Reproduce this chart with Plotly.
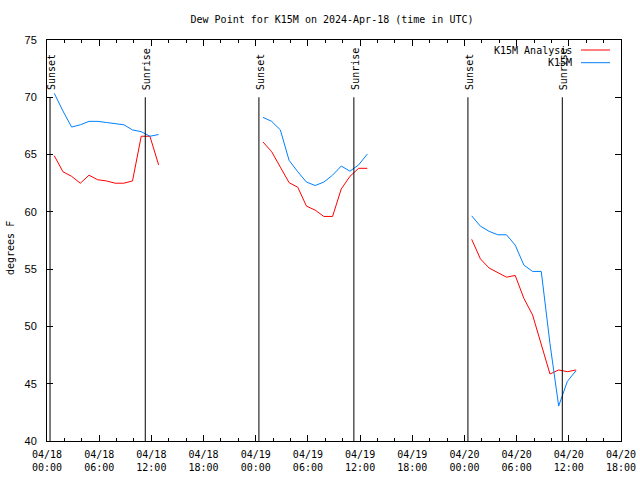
import plotly.graph_objects as go

# ---- data ----
seg_hours = ["00:50", "01:50", "02:50", "03:50", "04:50", "05:50", "06:50",
             "07:50", "08:50", "09:50", "10:50", "11:50", "12:50"]
days = ["2024-04-18", "2024-04-19", "2024-04-20"]

analysis = [
    [64.9, 63.5, 63.1, 62.5, 63.2, 62.8, 62.7, 62.5, 62.5, 62.7, 66.6, 66.6, 64.1],
    [66.1, 65.25, 63.9, 62.55, 62.15, 60.5, 60.15, 59.6, 59.6, 62.0, 63.1, 63.8, 63.8],
    [57.6, 55.9, 55.1, 54.7, 54.3, 54.45, 52.45, 51.0, 48.5, 45.85, 46.2, 46.05, 46.2],
]
k15m = [
    [70.35, 68.8, 67.4, 67.6, 67.9, 67.9, 67.8, 67.7, 67.6, 67.15, 67.0, 66.6, 66.75],
    [68.25, 67.9, 67.15, 64.5, 63.5, 62.6, 62.3, 62.6, 63.2, 64.0, 63.55, 64.1, 65.05],
    [59.65, 58.75, 58.3, 58.0, 58.0, 57.1, 55.35, 54.8, 54.8, 48.5, 43.05, 45.2, 46.15],
]
sunsets = ["2024-04-18 00:21", "2024-04-19 00:22", "2024-04-20 00:24"]
sunrises = ["2024-04-18 11:18", "2024-04-19 11:17", "2024-04-20 11:15"]

title = "Dew Point for K15M on 2024-Apr-18 (time in UTC)"
ylabel = "degrees F"
series_names = ["K15M Analysis", "K15M"]
series_colors = ["#ff0000", "#0080ff"]

# ---- build gapped series ----
xs, ya, yk = [], [], []
for d, a, k in zip(days, analysis, k15m):
    xs += [f"{d} {h}" for h in seg_hours] + [None]
    ya += a + [None]
    yk += k + [None]

MONO = "DejaVu Sans Mono"
fig = go.Figure()
fig.add_trace(go.Scatter(x=xs, y=ya, mode="lines", name=series_names[0],
                         line=dict(color=series_colors[0], width=1), connectgaps=False))
fig.add_trace(go.Scatter(x=xs, y=yk, mode="lines", name=series_names[1],
                         line=dict(color=series_colors[1], width=1), connectgaps=False))

shapes = []
annotations = []
for lbl, times in (("Sunset", sunsets), ("Sunrise", sunrises)):
    for t in times:
        shapes.append(dict(type="line", xref="x", yref="y", x0=t, x1=t, y0=40, y1=70.0,
                           line=dict(color="black", width=1)))
        annotations.append(dict(x=t, y=70.46, xref="x", yref="y", text=lbl, showarrow=False,
                                textangle=-90, xanchor="center", yanchor="bottom", xshift=1,
                                font=dict(family=MONO, size=10, color="black")))

# custom gnuplot-style legend (text left, sample right)
L, W, B, H = 47, 574, 441, 401
for i, (nm, col) in enumerate(zip(series_names, series_colors)):
    py = 50 + i * 12.7
    yp = (B - py) / H
    annotations.append(dict(x=(574 - L) / W, y=yp, xref="paper", yref="paper", text=nm,
                            showarrow=False, xanchor="right", yanchor="middle",
                            font=dict(family=MONO, size=10, color="black")))
    shapes.append(dict(type="line", xref="paper", yref="paper",
                       x0=(581 - L) / W, x1=(610 - L) / W, y0=yp, y1=yp,
                       line=dict(color=col, width=1)))

annotations.append(dict(x=(10 - L) / W, y=(B - 248) / H, xref="paper", yref="paper", text=ylabel,
                        showarrow=False, textangle=-90, xanchor="center", yanchor="middle",
                        font=dict(family=MONO, size=10, color="black")))

fig.update_layout(
    width=640, height=480,
    margin=dict(l=47, r=19, t=40, b=39, autoexpand=False),
    paper_bgcolor="white", plot_bgcolor="white",
    showlegend=False,
    title=dict(text=title, x=332 / 640, xanchor="center", y=1 - 19 / 480, yanchor="middle",
               font=dict(family=MONO, size=10, color="black")),
    shapes=shapes, annotations=annotations,
    xaxis=dict(type="date", range=["2024-04-18 00:00", "2024-04-20 18:00"], automargin=False,
               dtick=6 * 3600 * 1000, tick0="2024-04-18 00:00", tickformat="%m/%d<br>%H:%M",
               ticks="inside", ticklen=6, tickcolor="black", showgrid=False, zeroline=False,
               showline=True, linecolor="black", linewidth=1, mirror="ticks",
               ticklabelstandoff=4,
               tickfont=dict(family=MONO, size=10, color="black"),
               minor=dict(dtick=2 * 3600 * 1000, ticks="inside", ticklen=3, tickcolor="black",
                          showgrid=False)),
    yaxis=dict(range=[40, 75], dtick=5, ticks="inside", ticklen=6, tickcolor="black",
               automargin=False, ticklabelstandoff=7,
               showgrid=False, zeroline=False, showline=True, linecolor="black", linewidth=1,
               mirror="ticks", tickfont=dict(family="Liberation Sans", size=11, color="black")),
)

fig.write_html("out.html", config={"displayModeBar": False},
               post_script="document.body.style.margin='0';")
